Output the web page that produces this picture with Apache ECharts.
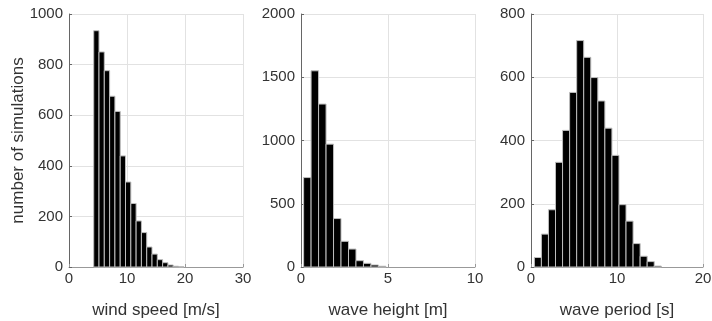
<!DOCTYPE html>
<html>
<head>
<meta charset="utf-8">
<script src="https://cdn.jsdelivr.net/npm/echarts@6/dist/echarts.min.js"></script>
<style>html,body{margin:0;padding:0;background:#fff;}#c{width:712px;height:321px;}</style>
</head>
<body>
<div id="c"></div>
<script>
// ---- data ----
var windStart = 4.26, windBinWidth = 0.914;
var windCounts = [934, 850, 776, 675, 615, 439, 336, 251, 182, 136, 79, 51, 29, 17, 8, 3, 1];
var heightStart = 0.15, heightBinWidth = 0.43;
var heightCounts = [707, 1551, 1288, 971, 383, 203, 142, 50, 29, 16, 6];
var periodStart = 0.39, periodBinWidth = 0.82;
var periodCounts = [30, 104, 181, 331, 432, 552, 716, 663, 599, 525, 439, 353, 197, 145, 74, 34, 17, 3];

var xNames = ['wind speed [m/s]', 'wave height [m]', 'wave period [s]'];
var xMax = [30, 10, 20], xInterval = [10, 5, 10];
var yMax = [1000, 2000, 800], yInterval = [200, 500, 200];
var yName = 'number of simulations';

function bins(start, w, counts) {
  return counts.map(function (c, i) { return [start + i * w, start + (i + 1) * w, c]; });
}
var binData = [bins(windStart, windBinWidth, windCounts),
               bins(heightStart, heightBinWidth, heightCounts),
               bins(periodStart, periodBinWidth, periodCounts)];

var FONT = 'Liberation Sans, Arial, sans-serif';
var grids = [
  {left: 69, top: 14, width: 174, height: 253, outerBoundsMode: 'none', containLabel: false},
  {left: 301, top: 14, width: 174, height: 253, outerBoundsMode: 'none', containLabel: false},
  {left: 531, top: 14, width: 172, height: 253, outerBoundsMode: 'none', containLabel: false}
];
function plain(v) { return String(v); }

var xAxes = [], yAxes = [], series = [];
for (var i = 0; i < 3; i++) {
  xAxes.push({
    type: 'value', gridIndex: i, min: 0, max: xMax[i], interval: xInterval[i],
    name: xNames[i], nameLocation: 'middle', nameGap: 35,
    nameMoveOverlap: false,
    nameTextStyle: {fontFamily: FONT, fontSize: 17, color: '#333'},
    axisLine: {show: true, lineStyle: {color: '#999', width: 1}},
    axisTick: {show: true, inside: true, length: 3, lineStyle: {color: '#999'}},
    axisLabel: {fontFamily: FONT, fontSize: 15, color: '#333', margin: 4, formatter: plain},
    splitLine: {show: true, lineStyle: {color: '#e2e2e2', width: 1}}
  });
  yAxes.push({
    type: 'value', gridIndex: i, min: 0, max: yMax[i], interval: yInterval[i],
    name: i === 0 ? yName : '', nameLocation: 'middle', nameGap: 42,
    nameMoveOverlap: false,
    nameTextStyle: {fontFamily: FONT, fontSize: 17, color: '#333'},
    axisLine: {show: true, lineStyle: {color: '#666', width: 1}},
    axisTick: {show: true, inside: true, length: 3, lineStyle: {color: '#666'}},
    axisLabel: {fontFamily: FONT, fontSize: 15, color: '#333', margin: 6, formatter: plain},
    splitLine: {show: true, lineStyle: {color: '#e2e2e2', width: 1}}
  });
  series.push({
    type: 'custom', xAxisIndex: i, yAxisIndex: i,
    data: binData[i],
    encode: {x: [0, 1], y: 2},
    renderItem: function (params, api) {
      var p0 = api.coord([api.value(0), api.value(2)]);
      var p1 = api.coord([api.value(1), 0]);
      return {
        type: 'rect',
        shape: {x: p0[0], y: p0[1], width: p1[0] - p0[0], height: p1[1] - p0[1]},
        style: {fill: '#000', stroke: '#bdbdbd', lineWidth: 1}
      };
    }
  });
}

var chart = echarts.init(document.getElementById('c'), null, {renderer: 'canvas'});
chart.setOption({
  animation: false,
  backgroundColor: '#fff',
  grid: grids,
  xAxis: xAxes,
  yAxis: yAxes,
  series: series
});
</script>
</body>
</html>
